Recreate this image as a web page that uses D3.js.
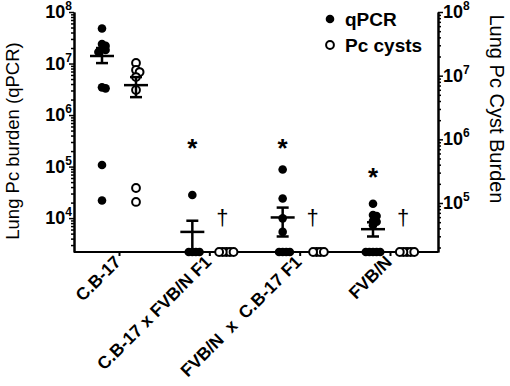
<!DOCTYPE html>
<html><head><meta charset="utf-8">
<script src="https://cdn.jsdelivr.net/npm/d3@7"></script>
<style>
body{margin:0;background:#fff}
svg{display:block}
text{font-family:Arial,"Liberation Sans",Helvetica,sans-serif;fill:#000}
</style>
</head><body>
<svg id="c" width="510" height="386"></svg>
<script>
// ---------------- data ----------------
const categories = ["C.B-17", "C.B-17 x FVB/N F1", "FVB/N  x  C.B-17 F1", "FVB/N"];
const seriesNames = ["qPCR", "Pc cysts"];
// individual animals; 0 = below detection (plotted on the axis floor)
const qpcrValues = [
  [4.8e7, 2.4e7, 2.2e7, 1.9e7, 1.83e7, 1.67e7, 3.45e6, 3.3e6, 1.07e5, 2.2e4],
  [2.8e4, 0, 0, 0, 0],
  [8.8e4, 2.4e4, 9.9e3, 5.4e3, 0, 0, 0, 0],
  [1.9e4, 1.15e4, 1.1e4, 8.8e3, 8.5e3, 7.3e3, 0, 0, 0, 0, 0]
];
const cystValues = [
  [1.58e7, 1.23e7, 1.14e7, 9.5e6, 5.96e6, 1.72e5, 1.04e5],
  [0, 0, 0, 0, 0],
  [0, 0, 0, 0],
  [0, 0, 0, 0, 0]
];
const qpcrMean  = [1.4e7, 5.4e3, 1.03e4, 6.1e3];
const qpcrSemHi = [2.0e7, 8.9e3, 1.6e4, 8.3e3];
const qpcrSemLo = [1.02e7, 0, 4.4e3, 4.4e3];
const cystMean  = [7.1e6, 0, 0, 0];
const cystSemHi = [9.5e6, 0, 0, 0];
const cystSemLo = [4.6e6, 0, 0, 0];
const starValues = [null, 2.9e5, 2.9e5, 7.8e4];   // "*" height, qPCR axis units
const daggerFlags = [false, true, true, true];      // "†" over cyst column
const leftTickValues  = [1e4, 1e5, 1e6, 1e7, 1e8];
const rightTickValues = [1e5, 1e6, 1e7, 1e8];
const leftDomain  = [2200, 1e8];
const rightDomain = [17000, 1e8];
const leftTitle  = "Lung Pc burden (qPCR)";
const rightTitle = "Lung Pc Cyst Burden";

// ---------------- layout ----------------
const svg = d3.select("#c");
const X0 = 74, X1 = 438, Y0 = 252, Y1 = 12;

const x = d3.scalePoint().domain(categories).range([119, 390]);
const xs = d3.scalePoint().domain(seriesNames).range([-17, 17]);
const yL = d3.scaleLog().domain(leftDomain).range([Y0, Y1]).clamp(true);
const yR = d3.scaleLog().domain(rightDomain).range([Y0, Y1]).clamp(true);
const yv = (s, v) => (v > 0 ? s(v) : Y0);

function minorTicks(dom) {
  const out = [];
  const lo = Math.floor(Math.log10(dom[0])), hi = Math.ceil(Math.log10(dom[1]));
  for (let e = lo; e < hi; e++) for (let m = 2; m <= 9; m++) {
    const v = m * Math.pow(10, e);
    if (v >= dom[0] && v <= dom[1]) out.push(v);
  }
  return out;
}

// left axis
const gL = svg.append("g").attr("transform", `translate(${X0},0)`);
gL.call(d3.axisLeft(yL).tickValues(minorTicks(leftDomain)).tickSize(3).tickSizeOuter(0).tickFormat(""));
gL.call(g => g.append("g").call(d3.axisLeft(yL).tickValues(leftTickValues).tickSize(5).tickSizeOuter(0).tickFormat("")));
gL.selectAll("path,line").attr("stroke", "#000").attr("stroke-width", 2);
gL.selectAll(".tick line").attr("stroke-width", 1.5);

// right axis
const gR = svg.append("g").attr("transform", `translate(${X1},0)`);
gR.call(d3.axisRight(yR).tickValues(minorTicks(rightDomain)).tickSize(3).tickSizeOuter(0).tickFormat(""));
gR.call(g => g.append("g").call(d3.axisRight(yR).tickValues(rightTickValues).tickSize(5).tickSizeOuter(0).tickFormat("")));
gR.selectAll("path,line").attr("stroke", "#000").attr("stroke-width", 2);
gR.selectAll(".tick line").attr("stroke-width", 1.5);

// bottom axis
const gB = svg.append("g").attr("transform", `translate(0,${Y0})`);
gB.call(d3.axisBottom(x).tickSize(4).tickSizeOuter(0).tickFormat(""));
gB.select(".domain").attr("d", `M${X0},0H${X1}`);
gB.selectAll("path,line").attr("stroke", "#000").attr("stroke-width", 2);

// power-of-ten tick labels
function powLabels(scale, values, xPos, anchor) {
  values.forEach(v => {
    const t = svg.append("text")
      .attr("x", xPos).attr("y", scale(v) + 6)
      .attr("text-anchor", anchor)
      .attr("font-weight", "bold").attr("font-size", 18);
    t.append("tspan").text("10");
    t.append("tspan").attr("dy", -8).attr("font-size", 12).text(Math.round(Math.log10(v)));
  });
}
powLabels(yL, leftTickValues, X0 - 2, "end");
powLabels(yR, rightTickValues, X1 + 5, "start");

// category labels
categories.forEach(c => {
  svg.append("text")
    .attr("transform", `translate(${x(c) + 3},${Y0 + 11}) rotate(-45)`)
    .attr("text-anchor", "end")
    .attr("font-weight", "bold").attr("font-size", 17.5)
    .style("white-space", "pre")
    .text(c);
});

// axis titles
svg.append("text")
  .attr("transform", `translate(19,${(Y0 + Y1) / 2 + 9}) rotate(-90)`)
  .attr("text-anchor", "middle").attr("font-size", 18.5)
  .text(leftTitle);
svg.append("text")
  .attr("transform", `translate(490,${109}) rotate(90)`)
  .attr("text-anchor", "middle").attr("font-size", 20)
  .text(rightTitle);

// swarm placement
function swarm(ys, dmin, step) {
  const placed = [];
  ys.forEach(y => {
    for (let k = 0; k < 60; k++) {
      const off = k === 0 ? 0 : (k % 2 ? 1 : -1) * Math.ceil(k / 2) * step;
      if (placed.every(p => (p.dx - off) ** 2 + (p.y - y) ** 2 >= dmin * dmin)) {
        placed.push({ dx: off, y });
        break;
      }
    }
  });
  return placed;
}

const R = 4.3;
const gPts = svg.append("g");
categories.forEach((c, i) => {
  const qp = swarm(qpcrValues[i].map(v => yv(yL, v)), 3.6, 1.8);
  gPts.selectAll(null).data(qp).enter().append("circle")
    .attr("cx", d => x(c) + xs("qPCR") + d.dx).attr("cy", d => d.y)
    .attr("r", R).attr("fill", "#000");
  const cp = swarm(cystValues[i].map(v => yv(yR, v)), 3.6, 1.8);
  gPts.selectAll(null).data(cp).enter().append("circle")
    .attr("cx", d => x(c) + xs("Pc cysts") + d.dx).attr("cy", d => d.y)
    .attr("r", R - 0.4).attr("fill", "#fff").attr("stroke", "#000").attr("stroke-width", 2);
});

// mean +/- SEM bars
function errBar(cx, scale, m, hi, lo) {
  if (!(m > 0)) return;
  const g = svg.append("g").attr("stroke", "#000").attr("stroke-width", 2.5);
  const yh = yv(scale, hi), yl = yv(scale, lo), ym = yv(scale, m);
  g.append("line").attr("x1", cx).attr("x2", cx).attr("y1", yh).attr("y2", yl);
  g.append("line").attr("x1", cx - 6).attr("x2", cx + 6).attr("y1", yh).attr("y2", yh);
  if (lo > 0) g.append("line").attr("x1", cx - 6).attr("x2", cx + 6).attr("y1", yl).attr("y2", yl);
  g.append("line").attr("x1", cx - 12).attr("x2", cx + 12).attr("y1", ym).attr("y2", ym);
}
categories.forEach((c, i) => {
  errBar(x(c) + xs("qPCR"), yL, qpcrMean[i], qpcrSemHi[i], qpcrSemLo[i]);
  errBar(x(c) + xs("Pc cysts"), yR, cystMean[i], cystSemHi[i], cystSemLo[i]);
});

// significance marks
categories.forEach((c, i) => {
  if (starValues[i] != null) {
    svg.append("text")
      .attr("x", x(c) + xs("qPCR")).attr("y", yL(starValues[i]) + 14)
      .attr("text-anchor", "middle").attr("font-weight", "bold").attr("font-size", 26)
      .text("*");
  }
  if (daggerFlags[i]) {
    svg.append("text")
      .attr("x", x(c) + xs("Pc cysts") - 4).attr("y", Y0 - 27)
      .attr("text-anchor", "middle").attr("font-size", 22)
      .text("\u2020");
  }
});

// legend
const lg = svg.append("g").attr("transform", "translate(330,19)");
seriesNames.forEach((s, i) => {
  const row = lg.append("g").attr("transform", `translate(0,${i * 26})`);
  row.append("circle").attr("r", i ? R - 0.4 : R)
    .attr("fill", i ? "#fff" : "#000").attr("stroke", i ? "#000" : "none").attr("stroke-width", 2);
  row.append("text").attr("x", 15).attr("y", 0).attr("dy", "0.35em")
    .attr("font-weight", "bold").attr("font-size", 19).text(s);
});
</script>
</body></html>
